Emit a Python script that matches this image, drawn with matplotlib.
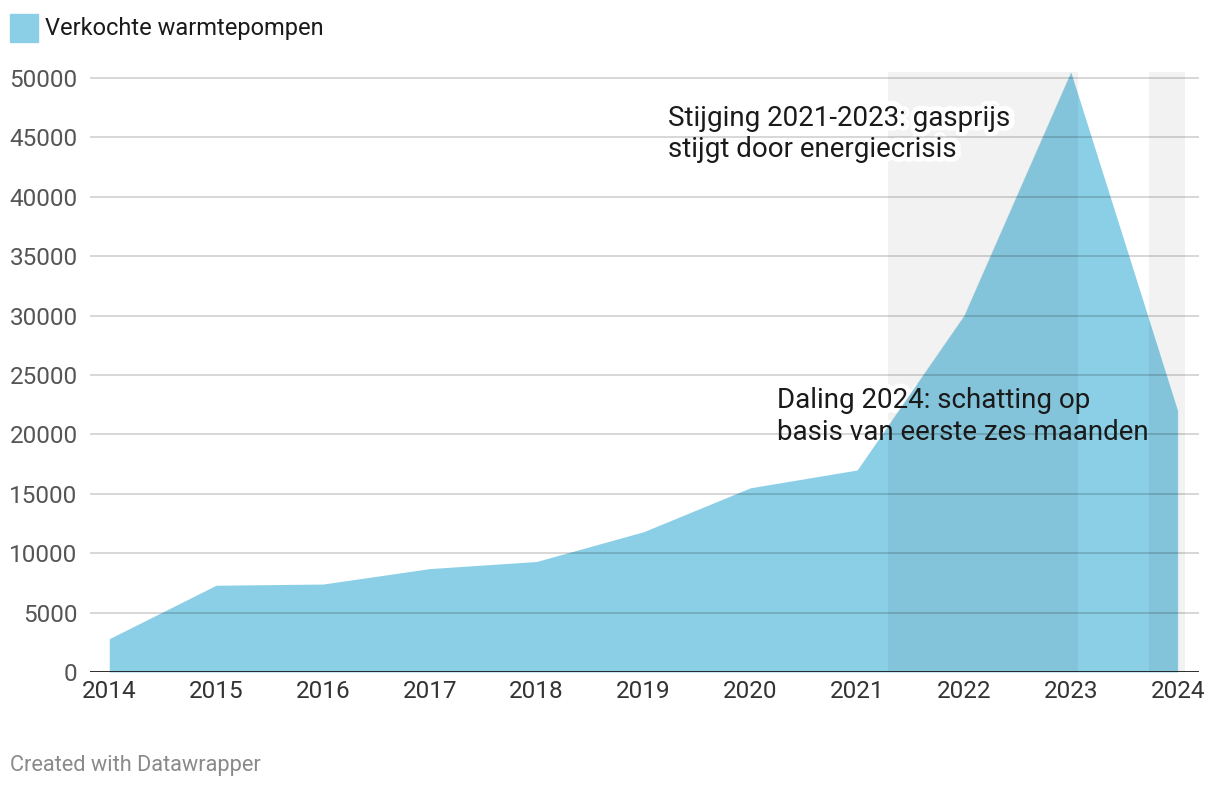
import matplotlib.pyplot as plt
import matplotlib.patheffects as pe

plt.rcParams['font.family'] = ['Roboto', 'DejaVu Sans']

# Verkochte warmtepompen per jaar
years = [2014, 2015, 2016, 2017, 2018, 2019, 2020, 2021, 2022, 2023, 2024]
sold = [2800, 7300, 7400, 8700, 9300, 11800, 15500, 17000, 30000, 50500, 22000]

# gemarkeerde periodes
highlights = [(2021.29, 2023.07), (2023.73, 2024.07)]

y_ticks = [0, 5000, 10000, 15000, 20000, 25000, 30000, 35000, 40000, 45000, 50000]

area_color = '#8bcfe6'

fig = plt.figure(figsize=(12.2, 7.9), dpi=100)
ax = fig.add_axes([0.0738, 0.1494, 0.909, 0.7595])

# grijze achtergrond voor de periodes
for x0, x1 in highlights:
    ax.axvspan(x0, x1, color='#f2f2f2', linewidth=0, zorder=1)

area = ax.fill_between(years, sold, 0, color=area_color, linewidth=0, zorder=3)
area_path = area.get_paths()[0]

# iets donkerder waar het vlak in de periode valt
for x0, x1 in highlights:
    sp = ax.axvspan(x0, x1, color='black', alpha=0.05, linewidth=0, zorder=3.5)
    sp.set_clip_path(area_path, ax.transData)

for t in y_ticks[1:]:
    ax.axhline(t, color='black', alpha=0.17, linewidth=1.3, zorder=4)
ax.axhline(0, color='#1a1a1a', linewidth=2, zorder=6)

ax.set_xlim(2013.82, 2024.2)
ax.set_ylim(0, 50500)
ax.set_xticks(years)
ax.set_xticklabels([str(y) for y in years])
ax.set_yticks(y_ticks)
ax.set_yticklabels([str(t) for t in y_ticks])
ax.tick_params(axis='both', length=0, labelsize=17.5)
ax.tick_params(axis='x', pad=6, labelcolor='#333333')
ax.tick_params(axis='y', pad=9, labelcolor='#555555')
for s in ax.spines.values():
    s.set_visible(False)

notes = [
    (2019.23, 47750, 'Stijging 2021-2023: gasprijs\nstijgt door energiecrisis'),
    (2020.25, 23950, 'Daling 2024: schatting op\nbasis van eerste zes maanden'),
]
halo = [pe.withStroke(linewidth=7, foreground='white')]
for x, y, s in notes:
    # witte rand onder het vlak, tekst erboven
    ax.text(x, y, s, fontsize=20, color='white', va='top', ha='left',
            linespacing=1.2, path_effects=halo, zorder=2)
    ax.text(x, y, s, fontsize=20, color='#1a1a1a', va='top', ha='left',
            linespacing=1.2, zorder=5)

# legenda
fig.patches.append(plt.Rectangle((10 / 1220, 1 - 42 / 790), 28 / 1220, 28 / 790,
                                 transform=fig.transFigure, color=area_color))
fig.text(45 / 1220, 1 - 28 / 790, 'Verkochte warmtepompen', fontsize=17,
         color='#1a1a1a', va='center', ha='left')

fig.text(10 / 1220, 1 - 765 / 790, 'Created with Datawrapper', fontsize=15.7,
         color='#8a8a8a', va='center', ha='left')

fig.savefig('out.png', dpi=100)
